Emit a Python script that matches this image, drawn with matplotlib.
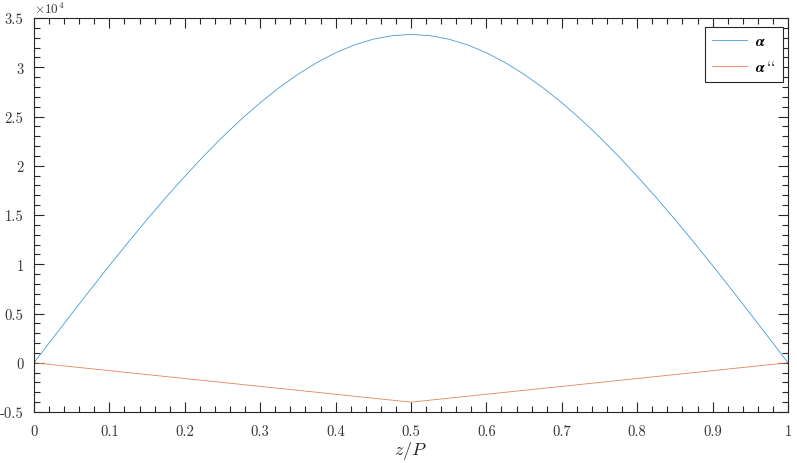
import matplotlib
matplotlib.use("Agg")
import matplotlib.pyplot as plt
from matplotlib.ticker import MultipleLocator, FuncFormatter

plt.rcParams['font.family'] = ['cmr10', 'DejaVu Serif']
plt.rcParams['mathtext.fontset'] = 'cm'
plt.rcParams['axes.formatter.use_mathtext'] = True

# data
z_alpha = [0.0, 0.025, 0.05, 0.075, 0.1, 0.125, 0.15, 0.175, 0.2, 0.225, 0.25,
           0.275, 0.3, 0.325, 0.35, 0.375, 0.4, 0.425, 0.45, 0.475, 0.5,
           0.525, 0.55, 0.575, 0.6, 0.625, 0.65, 0.675, 0.7, 0.725, 0.75,
           0.775, 0.8, 0.825, 0.85, 0.875, 0.9, 0.925, 0.95, 0.975, 1.0]
alpha = [0, 2500, 4980, 7440, 9870, 12240, 14550, 16790, 18930, 20980, 22920,
         24730, 26400, 27920, 29280, 30470, 31470, 32270, 32850, 33210, 33330,
         33210, 32850, 32270, 31470, 30470, 29280, 27920, 26400, 24730, 22920,
         20980, 18930, 16790, 14550, 12240, 9870, 7440, 4980, 2500, 0]
z_alpha2 = [0.0, 0.5, 1.0]
alpha2 = [0, -4000, 0]
labels = [r'$\boldsymbol{\alpha}$', r'$\boldsymbol{\alpha}\,$``']

fig = plt.figure(figsize=(7.97, 4.64), dpi=100)
ax = fig.add_axes([34/797, 1-413/464, (788-34)/797, (413-19)/464])

l1, = ax.plot(z_alpha, alpha, color='#4A9AD4', lw=0.6)
l2, = ax.plot(z_alpha2, alpha2, color='#E8835A', lw=0.6)

ax.set_xlim(0, 1)
ax.set_ylim(-5000, 35000)
ax.xaxis.set_major_locator(MultipleLocator(0.1))
ax.xaxis.set_minor_locator(MultipleLocator(0.02))
ax.yaxis.set_major_locator(MultipleLocator(5000))
ax.yaxis.set_minor_locator(MultipleLocator(1000))
ax.xaxis.set_major_formatter(FuncFormatter(lambda v, p: f'{v:g}'))
ax.yaxis.set_major_formatter(FuncFormatter(lambda v, p: f'{v/1e4:g}'))

gc = '#262626'
for s in ax.spines.values():
    s.set_color(gc)
    s.set_linewidth(0.8)
ax.tick_params(which='both', direction='in', top=True, right=True, colors=gc,
               labelcolor='#333333', labelsize=10.5, width=0.8)
ax.tick_params(which='major', length=7)
ax.tick_params(which='minor', length=4)
ax.tick_params(axis='x', pad=9)
ax.tick_params(axis='y', pad=7.5)

ax.text(0.0, 1.005, r'$\times10^{4}$', transform=ax.transAxes, fontsize=9.5,
        color='#333333', ha='left', va='bottom')

ax.set_xlabel(r'$z/P$', fontsize=13, color=gc, labelpad=0.5)

leg = ax.legend([l1, l2], labels, loc='upper right', fontsize=11, frameon=True,
                fancybox=False, edgecolor=gc, framealpha=1, handlelength=2.3,
                handletextpad=0.5, borderpad=0.5,
                bbox_to_anchor=(783/797, 1-28/464), bbox_transform=fig.transFigure,
                borderaxespad=0, labelspacing=0.7)
leg.get_frame().set_linewidth(0.8)

fig.savefig('out.png', dpi=100)
